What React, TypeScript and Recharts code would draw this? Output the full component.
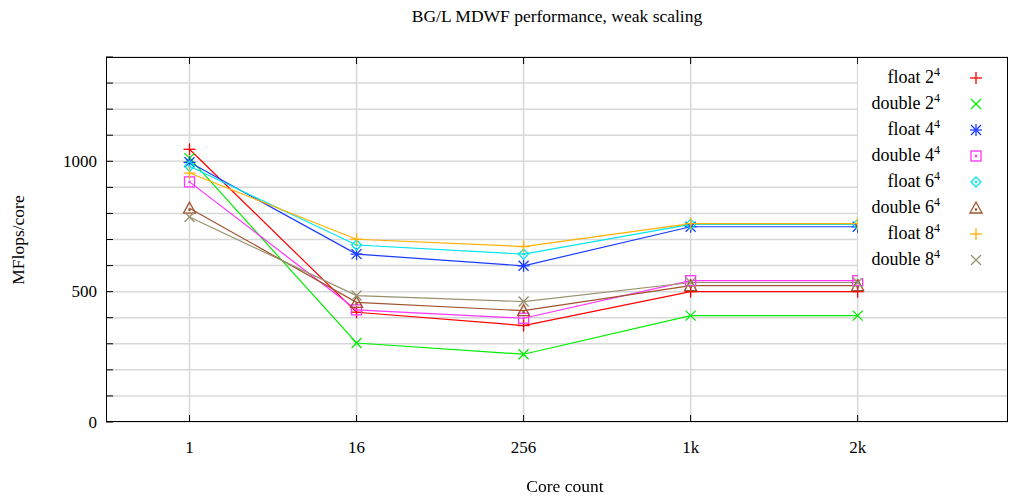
import React from "react"
import { LineChart, Line, XAxis, YAxis, CartesianGrid } from "recharts"

const categories = ["1", "16", "256", "1k", "2k"]
const float2 = [1046, 421, 370, 500, 500]
const double2 = [1012, 303, 260, 408, 408]
const float4 = [996, 644, 599, 749, 749]
const double4 = [921, 430, 398, 542, 542]
const float6 = [981, 679, 644, 758, 758]
const double6 = [820, 459, 427, 523, 523]
const float8 = [955, 701, 673, 761, 761]
const double8 = [786, 485, 462, 535, 535]

const yTicks = [0, 100, 200, 300, 400, 500, 600, 700, 800, 900, 1000, 1100, 1200, 1300, 1400]
const yLabels = [0, 500, 1000]

const FONT = "'Liberation Serif', 'DejaVu Serif', serif"
const PLOT_L = 106
const PLOT_R = 1008
const PLOT_T = 57
const PLOT_B = 422

type Shape = "plus" | "cross" | "star" | "square" | "diamond" | "triangle"

const series: { key: string; base: string; color: string; shape: Shape; values: number[] }[] = [
  { key: "f2", base: "float 2", color: "#ff0000", shape: "plus", values: float2 },
  { key: "d2", base: "double 2", color: "#00ee00", shape: "cross", values: double2 },
  { key: "f4", base: "float 4", color: "#1a3cff", shape: "star", values: float4 },
  { key: "d4", base: "double 4", color: "#ff33ff", shape: "square", values: double4 },
  { key: "f6", base: "float 6", color: "#00e5ee", shape: "diamond", values: float6 },
  { key: "d6", base: "double 6", color: "#a0522d", shape: "triangle", values: double6 },
  { key: "f8", base: "float 8", color: "#ffb000", shape: "plus", values: float8 },
  { key: "d8", base: "double 8", color: "#99916e", shape: "cross", values: double8 },
]

const data = categories.map((c, i) => {
  const row: Record<string, number | string> = { x: i, name: c }
  series.forEach((s) => (row[s.key] = s.values[i]))
  return row
})

function Marker({ cx, cy, color, shape }: { cx: number; cy: number; color: string; shape: Shape }) {
  const r = 6
  const sw = 1.3
  if (shape === "plus")
    return (
      <g stroke={color} strokeWidth={sw}>
        <line x1={cx - r} y1={cy} x2={cx + r} y2={cy} />
        <line x1={cx} y1={cy - r} x2={cx} y2={cy + r} />
      </g>
    )
  if (shape === "cross")
    return (
      <g stroke={color} strokeWidth={sw}>
        <line x1={cx - 5} y1={cy - 5} x2={cx + 5} y2={cy + 5} />
        <line x1={cx - 5} y1={cy + 5} x2={cx + 5} y2={cy - 5} />
      </g>
    )
  if (shape === "star")
    return (
      <g stroke={color} strokeWidth={sw}>
        <line x1={cx - r} y1={cy} x2={cx + r} y2={cy} />
        <line x1={cx} y1={cy - r} x2={cx} y2={cy + r} />
        <line x1={cx - 5} y1={cy - 5} x2={cx + 5} y2={cy + 5} />
        <line x1={cx - 5} y1={cy + 5} x2={cx + 5} y2={cy - 5} />
      </g>
    )
  if (shape === "square")
    return (
      <g stroke={color} strokeWidth={sw} fill="none">
        <rect x={cx - 5} y={cy - 5} width={10} height={10} />
        <rect x={cx - 0.5} y={cy - 0.5} width={1} height={1} fill={color} />
      </g>
    )
  if (shape === "diamond")
    return (
      <g stroke={color} strokeWidth={sw} fill="none">
        <polygon points={`${cx},${cy - 5} ${cx + 5},${cy} ${cx},${cy + 5} ${cx - 5},${cy}`} />
        <rect x={cx - 0.5} y={cy - 0.5} width={1} height={1} fill={color} />
      </g>
    )
  return (
    <g stroke={color} strokeWidth={sw} fill="none">
      <polygon points={`${cx},${cy - 6} ${cx + 6},${cy + 5} ${cx - 6},${cy + 5}`} />
      <rect x={cx - 0.5} y={cy + 1} width={1} height={1} fill={color} />
    </g>
  )
}

// y ticks: label on the left, short inward mark on the frame
function YTick(props: any) {
  const { y, payload } = props
  const v = payload.value as number
  return (
    <g>
      <line x1={PLOT_L} x2={PLOT_L + 7} y1={y} y2={y} stroke="#000" strokeWidth={1} />
      {yLabels.includes(v) && (
        <text x={PLOT_L - 9} y={y} dy={5.5} textAnchor="end" fontSize={17} fontFamily={FONT} fill="#000">
          {v}
        </text>
      )}
    </g>
  )
}

function XTick(props: any) {
  const { x, payload } = props
  return (
    <g>
      <line x1={x} x2={x} y1={PLOT_B} y2={PLOT_B - 7} stroke="#000" strokeWidth={1} />
      <line x1={x} x2={x} y1={PLOT_T} y2={PLOT_T + 7} stroke="#000" strokeWidth={1} />
      <text x={x} y={453} textAnchor="middle" fontSize={17} fontFamily={FONT} fill="#000">
        {categories[payload.value]}
      </text>
    </g>
  )
}

export default function App() {
  return (
    <div style={{ position: "fixed", left: 0, top: 0, width: 1016, height: 500, background: "#fff", fontFamily: FONT }}>
      <div style={{ position: "absolute", top: 6, left: 106, width: 902, textAlign: "center", fontSize: 17.5 }}>
        BG/L MDWF performance, weak scaling
      </div>
      <LineChart width={1016} height={500} data={data} margin={{ top: PLOT_T, right: 1016 - PLOT_R, bottom: 0, left: 0 }}>
        <CartesianGrid
          stroke="#d8d8d8"
          strokeWidth={1.5}
          horizontalValues={yTicks}
          verticalValues={[0, 1, 2, 3, 4]}
        />
        <XAxis
          dataKey="x"
          type="number"
          domain={[-0.5, 4.9]}
          ticks={[0, 1, 2, 3, 4]}
          height={500 - PLOT_B}
          axisLine={false}
          tickLine={false}
          tick={<XTick />}
        />
        <YAxis
          type="number"
          domain={[0, 1400]}
          ticks={yTicks}
          width={PLOT_L}
          axisLine={false}
          tickLine={false}
          tick={<YTick />}
        />
        {series.map((s) => (
          <Line
            key={s.key}
            dataKey={s.key}
            type="linear"
            stroke={s.color}
            strokeWidth={1.2}
            isAnimationActive={false}
            activeDot={false}
            dot={(p: any) => <Marker key={`${s.key}-${p.index}`} cx={p.cx} cy={p.cy} color={s.color} shape={s.shape} />}
          />
        ))}
      </LineChart>
      {/* legend box */}
      <div
        style={{
          position: "absolute",
          left: 858,
          top: 58,
          width: 149,
          height: 220,
          background: "#fff",
        }}
      >
        {series.map((s, i) => (
          <div key={s.key} style={{ position: "absolute", top: 7 + i * 26, left: 0, width: 149, height: 24 }}>
            <div style={{ position: "absolute", right: 67, top: 0, fontSize: 18, whiteSpace: "nowrap", lineHeight: "24px" }}>
              {s.base}
              <sup style={{ fontSize: 12, verticalAlign: "7px", lineHeight: 0 }}>4</sup>
            </div>
            <svg style={{ position: "absolute", left: 106, top: 1 }} width={24} height={24}>
              <Marker cx={12} cy={12} color={s.color} shape={s.shape} />
            </svg>
          </div>
        ))}
      </div>
      {/* frame */}
      <div
        style={{
          position: "absolute",
          left: PLOT_L,
          top: PLOT_T,
          width: PLOT_R - PLOT_L,
          height: PLOT_B - PLOT_T,
          border: "1px solid #000",
          boxSizing: "border-box",
          pointerEvents: "none",
        }}
      />
      <div
        style={{
          position: "absolute",
          left: 18,
          top: 240,
          transform: "translate(-50%, -50%) rotate(-90deg)",
          fontSize: 17.5,
          whiteSpace: "nowrap",
        }}
      >
        MFlops/core
      </div>
      <div style={{ position: "absolute", top: 476, left: 106, width: 918, textAlign: "center", fontSize: 17.5 }}>
        Core count
      </div>
    </div>
  )
}
